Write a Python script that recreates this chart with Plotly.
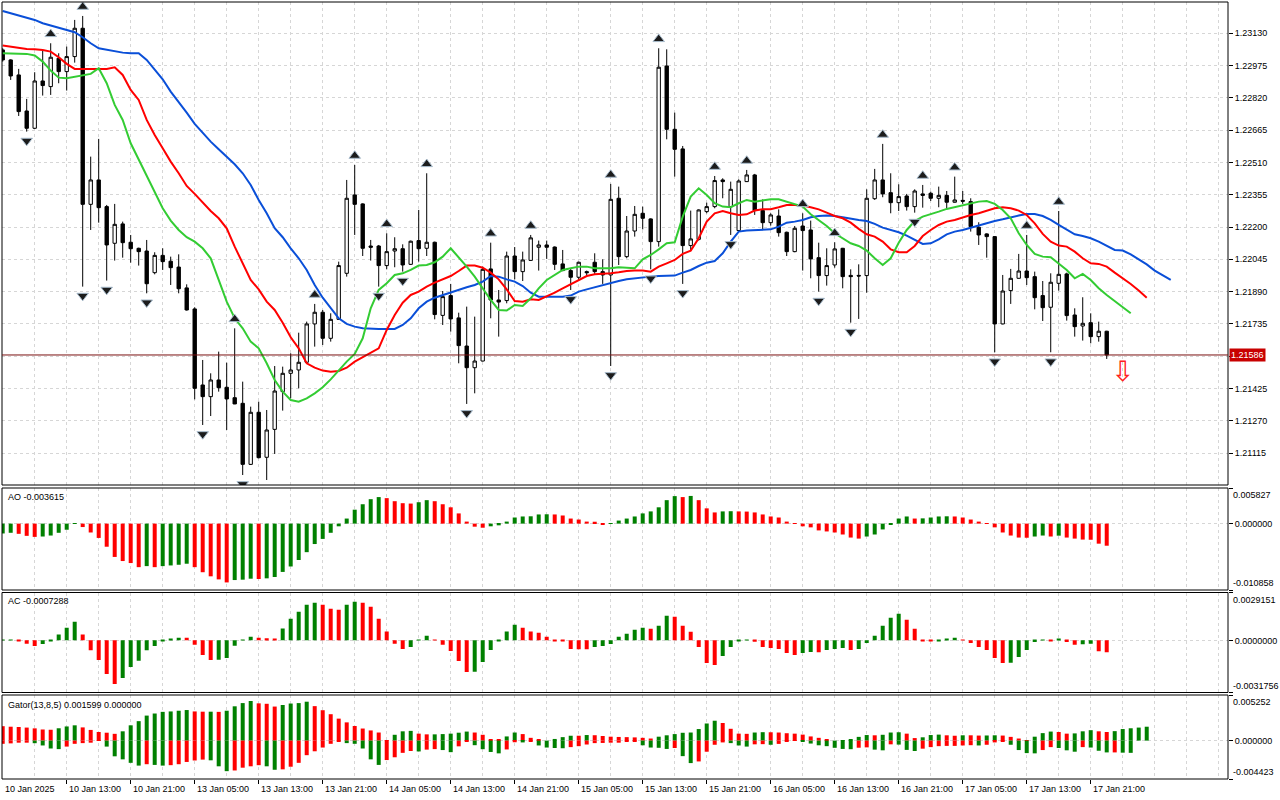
import plotly.graph_objects as go

# H1 candles, 10 Jan 05:00 .. 17 Jan 23:00 2025
opens = [
    1.23050, 1.23002, 1.22930, 1.22757, 1.22674, 1.22901, 1.22874, 1.23010, 1.22946, 1.23018,
    1.23154, 1.22309, 1.22426, 1.22298, 1.22122, 1.22215, 1.22127, 1.22098, 1.22085, 1.21981,
    1.22064, 1.22036, 1.22008, 1.21908, 1.21807, 1.21442, 1.21386, 1.21466, 1.21431, 1.21381,
    1.21354, 1.21061, 1.21311, 1.21095, 1.21229, 1.21410, 1.21498, 1.21514, 1.21551, 1.21735,
    1.21791, 1.21666, 1.21757, 1.21978, 1.22354, 1.22311, 1.22109, 1.22109, 1.22015, 1.22085,
    1.22096, 1.22021, 1.22135, 1.22098, 1.22127, 1.21776, 1.21871, 1.21764, 1.21629, 1.21525,
    1.21557, 1.21999, 1.21850, 1.21847, 1.22061, 1.21986, 1.22040, 1.22103, 1.22114, 1.22104,
    1.22023, 1.21991, 1.21959, 1.21986, 1.22031, 1.21986, 1.21970, 1.22338, 1.22058, 1.22181,
    1.22266, 1.22239, 1.22130, 1.22973, 1.22669, 1.22575, 1.22111, 1.22141, 1.22274, 1.22298,
    1.22426, 1.22298, 1.22183, 1.22418, 1.22450, 1.22279, 1.22221, 1.22253, 1.22175, 1.22082,
    1.22205, 1.22186, 1.22053, 1.21967, 1.22018, 1.22098, 1.21968, 1.21968, 1.21967, 1.22336,
    1.22426, 1.22365, 1.22317, 1.22349, 1.22298, 1.22359, 1.22362, 1.22338, 1.22352, 1.22319,
    1.22328, 1.22322, 1.22199, 1.22167, 1.22154, 1.21735, 1.21895, 1.21954, 1.21989, 1.21962,
    1.21871, 1.21815, 1.21930, 1.21975, 1.21778, 1.21725, 1.21741, 1.21674, 1.21700,
]
highs = [
    1.23058, 1.23005, 1.22959, 1.22815, 1.22943, 1.23047, 1.23082, 1.23034, 1.23066, 1.23194,
    1.23213, 1.22538, 1.22623, 1.22306, 1.22311, 1.22226, 1.22162, 1.22101, 1.22138, 1.22079,
    1.22098, 1.22058, 1.22069, 1.21925, 1.21815, 1.21562, 1.21498, 1.21602, 1.21549, 1.21714,
    1.21458, 1.21338, 1.21362, 1.21322, 1.21533, 1.21530, 1.21594, 1.21693, 1.21746, 1.21831,
    1.21802, 1.21786, 1.22034, 1.22426, 1.22498, 1.22314, 1.22138, 1.22114, 1.22170, 1.22151,
    1.22117, 1.22135, 1.22282, 1.22458, 1.22130, 1.21893, 1.21927, 1.21789, 1.21818, 1.21770,
    1.22010, 1.22125, 1.21898, 1.22082, 1.22104, 1.22082, 1.22162, 1.22135, 1.22135, 1.22107,
    1.22090, 1.22002, 1.22034, 1.21991, 1.22074, 1.22045, 1.22407, 1.22394, 1.22253, 1.22301,
    1.22298, 1.22242, 1.23058, 1.23053, 1.22749, 1.22589, 1.22279, 1.22285, 1.22317, 1.22445,
    1.22434, 1.22418, 1.22429, 1.22474, 1.22455, 1.22333, 1.22266, 1.22285, 1.22178, 1.22205,
    1.22266, 1.22231, 1.22125, 1.22098, 1.22127, 1.22100, 1.21997, 1.22021, 1.22381, 1.22479,
    1.22599, 1.22458, 1.22405, 1.22359, 1.22381, 1.22402, 1.22370, 1.22394, 1.22373, 1.22442,
    1.22373, 1.22338, 1.22223, 1.22170, 1.22157, 1.21970, 1.21999, 1.22071, 1.22162, 1.21986,
    1.21941, 1.21978, 1.22277, 1.21981, 1.21810, 1.21863, 1.21786, 1.21746, 1.21702,
]
lows = [
    1.22994, 1.22906, 1.22733, 1.22658, 1.22671, 1.22831, 1.22834, 1.22890, 1.22855, 1.22989,
    1.21914, 1.22186, 1.22221, 1.21943, 1.22039, 1.22053, 1.22029, 1.22015, 1.21882, 1.21973,
    1.21994, 1.21922, 1.21882, 1.21799, 1.21373, 1.21250, 1.21293, 1.21410, 1.21226, 1.21350,
    1.21010, 1.21058, 1.21090, 1.20986, 1.21111, 1.21319, 1.21378, 1.21426, 1.21549, 1.21626,
    1.21634, 1.21650, 1.21754, 1.21962, 1.22162, 1.22061, 1.22039, 1.21914, 1.21997, 1.22007,
    1.21986, 1.22018, 1.22034, 1.22061, 1.21757, 1.21730, 1.21698, 1.21546, 1.21351, 1.21402,
    1.21555, 1.21762, 1.21674, 1.21834, 1.21949, 1.21941, 1.22037, 1.21991, 1.22047, 1.21994,
    1.21988, 1.21898, 1.21946, 1.21962, 1.21970, 1.21927, 1.21533, 1.22018, 1.22050, 1.22154,
    1.22189, 1.21997, 1.22106, 1.22621, 1.22442, 1.21927, 1.22090, 1.22135, 1.22266, 1.22290,
    1.22338, 1.22162, 1.22180, 1.22416, 1.22258, 1.22186, 1.22207, 1.22154, 1.22061, 1.22079,
    1.21991, 1.21954, 1.21890, 1.21919, 1.22005, 1.21906, 1.21741, 1.21759, 1.21885, 1.22330,
    1.22343, 1.22266, 1.22277, 1.22279, 1.22269, 1.22293, 1.22325, 1.22295, 1.22287, 1.22317,
    1.22311, 1.22178, 1.22114, 1.22053, 1.21599, 1.21733, 1.21831, 1.21952, 1.21922, 1.21805,
    1.21749, 1.21599, 1.21895, 1.21751, 1.21674, 1.21655, 1.21642, 1.21650, 1.21567,
]
closes = [
    1.23002, 1.22925, 1.22754, 1.22674, 1.22901, 1.22879, 1.23015, 1.22946, 1.23018, 1.23154,
    1.22309, 1.22426, 1.22293, 1.22114, 1.22213, 1.22125, 1.22096, 1.22082, 1.21928, 1.22064,
    1.22034, 1.22005, 1.21904, 1.21802, 1.21426, 1.21386, 1.21466, 1.21429, 1.21375, 1.21351,
    1.21061, 1.21311, 1.21093, 1.21226, 1.21413, 1.21498, 1.21514, 1.21551, 1.21735, 1.21791,
    1.21666, 1.21757, 1.22015, 1.22338, 1.22309, 1.22098, 1.22103, 1.22015, 1.22082, 1.22096,
    1.22018, 1.22132, 1.22096, 1.22127, 1.21780, 1.21866, 1.21759, 1.21631, 1.21525, 1.21557,
    1.21997, 1.21850, 1.21840, 1.22061, 1.21986, 1.22042, 1.22148, 1.22114, 1.22103, 1.22021,
    1.21991, 1.21959, 1.22031, 1.21981, 1.21986, 1.21970, 1.22333, 1.22058, 1.22181, 1.22261,
    1.22242, 1.22130, 1.22967, 1.22669, 1.22573, 1.22111, 1.22143, 1.22282, 1.22298, 1.22423,
    1.22418, 1.22381, 1.22421, 1.22450, 1.22279, 1.22221, 1.22258, 1.22173, 1.22082, 1.22194,
    1.22183, 1.22047, 1.21967, 1.22015, 1.22095, 1.21962, 1.21962, 1.21965, 1.22338, 1.22426,
    1.22359, 1.22317, 1.22346, 1.22298, 1.22373, 1.22352, 1.22338, 1.22352, 1.22319, 1.22330,
    1.22324, 1.22202, 1.22162, 1.22154, 1.21735, 1.21893, 1.21954, 1.21989, 1.21957, 1.21861,
    1.21813, 1.21935, 1.21973, 1.21775, 1.21722, 1.21738, 1.21674, 1.21700, 1.21586,
]

# Alligator lines as drawn (already shifted forward by 8 / 5 / 3 bars)
jaw = [
    1.23237, 1.23226, 1.23215, 1.23205, 1.23194, 1.23178, 1.23167, 1.23157, 1.23146, 1.23135,
    1.23111, 1.23082, 1.23058, 1.23050, 1.23045, 1.23037, 1.23034, 1.23034, 1.23002, 1.22954,
    1.22909, 1.22850, 1.22802, 1.22749, 1.22695, 1.22650, 1.22610, 1.22573, 1.22538, 1.22501,
    1.22458, 1.22402, 1.22330, 1.22266, 1.22194, 1.22151, 1.22098, 1.22050, 1.21994, 1.21922,
    1.21861, 1.21810, 1.21762, 1.21735, 1.21722, 1.21714, 1.21711, 1.21711, 1.21711, 1.21711,
    1.21730, 1.21762, 1.21810, 1.21842, 1.21861, 1.21874, 1.21885, 1.21898, 1.21911, 1.21922,
    1.21938, 1.21965, 1.21962, 1.21949, 1.21938, 1.21917, 1.21885, 1.21866, 1.21866, 1.21866,
    1.21866, 1.21871, 1.21890, 1.21901, 1.21911, 1.21922, 1.21933, 1.21941, 1.21949, 1.21954,
    1.21959, 1.21962, 1.21965, 1.21965, 1.21967, 1.21981, 1.21994, 1.22013, 1.22029, 1.22037,
    1.22074, 1.22130, 1.22178, 1.22183, 1.22186, 1.22188, 1.22189, 1.22202, 1.22221, 1.22226,
    1.22234, 1.22247, 1.22253, 1.22255, 1.22253, 1.22247, 1.22239, 1.22234, 1.22229, 1.22215,
    1.22197, 1.22186, 1.22175, 1.22159, 1.22138, 1.22119, 1.22122, 1.22141, 1.22165, 1.22178,
    1.22186, 1.22197, 1.22208, 1.22218, 1.22229, 1.22237, 1.22247, 1.22255, 1.22263, 1.22263,
    1.22253, 1.22234, 1.22210, 1.22186, 1.22165, 1.22157, 1.22146, 1.22130, 1.22109, 1.22090,
    1.22087, 1.22069, 1.22045, 1.22021, 1.21991, 1.21970, 1.21946,
]
teeth = [
    1.23071, 1.23066, 1.23058, 1.23055, 1.23053, 1.23050, 1.23042, 1.23015, 1.22983, 1.22959,
    1.22959, 1.22959, 1.22959, 1.22959, 1.22967, 1.22930, 1.22858, 1.22810, 1.22714, 1.22642,
    1.22578, 1.22514, 1.22458, 1.22397, 1.22359, 1.22317, 1.22277, 1.22242, 1.22194, 1.22106,
    1.22026, 1.21946, 1.21901, 1.21842, 1.21802, 1.21741, 1.21671, 1.21618, 1.21546, 1.21525,
    1.21511, 1.21506, 1.21509, 1.21525, 1.21554, 1.21575, 1.21594, 1.21618, 1.21706, 1.21778,
    1.21837, 1.21874, 1.21890, 1.21914, 1.21933, 1.21949, 1.21965, 1.21989, 1.22015, 1.22015,
    1.22005, 1.21981, 1.21949, 1.21901, 1.21845, 1.21842, 1.21853, 1.21850, 1.21866, 1.21885,
    1.21906, 1.21927, 1.21946, 1.21965, 1.21973, 1.21975, 1.21978, 1.21983, 1.21989, 1.21991,
    1.21991, 1.21986, 1.22010, 1.22026, 1.22042, 1.22071, 1.22087, 1.22146, 1.22226, 1.22266,
    1.22277, 1.22266, 1.22258, 1.22261, 1.22279, 1.22285, 1.22285, 1.22295, 1.22306, 1.22306,
    1.22303, 1.22295, 1.22285, 1.22269, 1.22253, 1.22242, 1.22221, 1.22191, 1.22165, 1.22154,
    1.22130, 1.22093, 1.22079, 1.22079, 1.22109, 1.22157, 1.22186, 1.22210, 1.22226, 1.22234,
    1.22247, 1.22258, 1.22266, 1.22277, 1.22290, 1.22295, 1.22290, 1.22279, 1.22258, 1.22218,
    1.22167, 1.22130, 1.22111, 1.22106, 1.22082, 1.22050, 1.22026, 1.22023, 1.22010, 1.21981,
    1.21954, 1.21927, 1.21895, 1.21861,
]
lips = [
    1.23034, 1.23034, 1.23034, 1.23031, 1.23023, 1.22994, 1.22951, 1.22917, 1.22914, 1.22922,
    1.22930, 1.22935, 1.22962, 1.22890, 1.22786, 1.22714, 1.22602, 1.22522, 1.22442, 1.22362,
    1.22290, 1.22231, 1.22186, 1.22151, 1.22130, 1.22098, 1.22050, 1.21946, 1.21842, 1.21762,
    1.21714, 1.21650, 1.21618, 1.21546, 1.21466, 1.21410, 1.21370, 1.21362, 1.21378, 1.21402,
    1.21431, 1.21469, 1.21514, 1.21554, 1.21591, 1.21666, 1.21810, 1.21898, 1.21930, 1.21970,
    1.21978, 1.21994, 1.22015, 1.22018, 1.22031, 1.22058, 1.22098, 1.22055, 1.22010, 1.21962,
    1.21906, 1.21850, 1.21802, 1.21799, 1.21826, 1.21821, 1.21858, 1.21906, 1.21946, 1.21970,
    1.21994, 1.22002, 1.22010, 1.22010, 1.22002, 1.22002, 1.22002, 1.22007, 1.22005, 1.22002,
    1.22045, 1.22066, 1.22093, 1.22122, 1.22127, 1.22250, 1.22346, 1.22386, 1.22354, 1.22314,
    1.22298, 1.22295, 1.22314, 1.22330, 1.22322, 1.22326, 1.22333, 1.22333, 1.22322, 1.22309,
    1.22298, 1.22261, 1.22231, 1.22205, 1.22170, 1.22146, 1.22122, 1.22109, 1.22087, 1.22050,
    1.22018, 1.22050, 1.22125, 1.22186, 1.22229, 1.22250, 1.22261, 1.22274, 1.22287, 1.22295,
    1.22303, 1.22311, 1.22322, 1.22325, 1.22311, 1.22282, 1.22242, 1.22170, 1.22114, 1.22071,
    1.22058, 1.22055, 1.22026, 1.21994, 1.21954, 1.21975, 1.21946, 1.21906, 1.21874, 1.21845,
    1.21815, 1.21786,
]

# Awesome Oscillator, in 1e-5
ao_e5 = [
    -161, -150, -167, -200, -217, -211, -195, -150, -100, -6,
    -56, -145, -234, -378, -545, -612, -645, -712, -695, -712,
    -695, -684, -673, -656, -712, -795, -862, -912, -962, -923,
    -917, -901, -906, -895, -873, -790, -701, -595, -467, -334,
    -250, -150, -44, 83, 228, 317, 400, 434, 417, 367,
    334, 328, 350, 384, 367, 317, 267, 167, 33, -50,
    -67, -44, -28, 33, 100, 117, 120, 150, 153, 150,
    133, 83, 67, 33, 31, -11, -6, 50, 83, 117,
    167, 200, 267, 384, 450, 434, 453, 384, 250, 183,
    200, 203, 200, 197, 183, 150, 117, 100, 33, -6,
    -44, -61, -111, -128, -145, -178, -228, -245, -211, -178,
    -95, -11, 83, 117, 83, 86, 100, 117, 120, 117,
    100, 67, 33, -6, -61, -145, -195, -228, -231, -211,
    -195, -211, -197, -228, -245, -261, -264, -328, -361.5,
]
# Accelerator Oscillator, in 1e-6
ac_e6 = [
    10, 20, -20, -202, -344, -223, -20, 364, 769, 1133,
    364, -607, -1194, -2044, -2651, -2287, -1619, -1235, -607, -344,
    -20, 101, 162, 152, -263, -891, -1194, -1184, -1073, -324,
    40, 223, 162, 121, 101, 729, 1316, 1741, 2166, 2287,
    2166, 1923, 1862, 2166, 2348, 2287, 2044, 1316, 546, -202,
    -526, -405, 5, 283, 20, -263, -648, -1255, -1923, -1913,
    -1316, -587, -20, 546, 951, 769, 546, 466, 223, -20,
    -61, -526, -536, -546, -405, -344, -223, 223, 405, 648,
    769, 708, 891, 1498, 1437, 891, 526, -405, -1376, -1498,
    -951, -405, -40, 5, -81, -405, -466, -526, -769, -891,
    -769, -708, -719, -587, -526, -466, -587, -526, -162, 283,
    891, 1376, 1619, 1255, 708, -20, -40, -20, 101, 162,
    40, -162, -405, -587, -1073, -1376, -1366, -1012, -587, -101,
    20, -10, 101, -101, -263, -243, -202, -668, -728.8,
]

fractal_up = [6, 10, 29, 39, 44, 48, 53, 61, 66, 76, 82, 89, 93, 100, 104, 110, 115, 119, 128, 132]
fractal_down = [3, 10, 13, 18, 25, 30, 33, 47, 50, 58, 71, 76, 81, 85, 91, 102, 106, 114, 124, 131]

price_ticks = [1.21115, 1.21270, 1.21425, 1.21580, 1.21735, 1.21890, 1.22045,
               1.22200, 1.22355, 1.22510, 1.22665, 1.22820, 1.22975, 1.23130]
last_price = 1.21586
sell_bar = 140
sell_price = 1.21505

label_bars = [0, 8, 16, 24, 32, 40, 48, 56, 64, 72, 80, 88, 96, 104, 112, 120, 128, 136]
label_texts = ["10 Jan 2025", "10 Jan 13:00", "10 Jan 21:00", "13 Jan 05:00", "13 Jan 13:00",
               "13 Jan 21:00", "14 Jan 05:00", "14 Jan 13:00", "14 Jan 21:00", "15 Jan 05:00",
               "15 Jan 13:00", "15 Jan 21:00", "16 Jan 05:00", "16 Jan 13:00", "16 Jan 21:00",
               "17 Jan 05:00", "17 Jan 13:00", "17 Jan 21:00"]

ao_scale = [-0.010858, 0.005827]
ac_scale = [-0.0031756, 0.0029151]
gator_scale = [-0.004423, 0.005252]

GREEN = "#008000"
RED = "#ff0000"
GRID = "#d6d6d6"
FONT = "Liberation Sans"


def py(px):
    # pixel row -> paper fraction
    return 1 - px / 800.0


def hist_colors(vals, first, use_abs=False):
    cols = []
    prev = None
    for v in vals:
        a = abs(v) if use_abs else v
        if prev is None:
            cols.append(first)
        else:
            cols.append(GREEN if a > prev else RED)
        prev = a
    return cols


bars = list(range(len(opens)))
ao = [v * 1e-5 for v in ao_e5]
ac = [v * 1e-6 for v in ac_e6]
gator_up = [abs(j - t) for j, t in zip(jaw, teeth)]
gator_dn = [-abs(t - l) for t, l in zip(teeth, lips)]
pad = 0.00044

fig = go.Figure()

fig.add_trace(go.Candlestick(
    x=bars, open=opens, high=highs, low=lows, close=closes,
    increasing=dict(line=dict(color="black", width=1), fillcolor="white"),
    decreasing=dict(line=dict(color="black", width=1), fillcolor="black"),
    whiskerwidth=0, hoverinfo="skip",
))
fig.add_trace(go.Scatter(x=list(range(len(jaw))), y=jaw, mode="lines",
                         line=dict(color="#0a4fd8", width=2)))
fig.add_trace(go.Scatter(x=list(range(len(teeth))), y=teeth, mode="lines",
                         line=dict(color="#ff0000", width=2)))
fig.add_trace(go.Scatter(x=list(range(len(lips))), y=lips, mode="lines",
                         line=dict(color="#33cc33", width=2)))

fract_marker = dict(size=10, color="#1c1c1c", line=dict(color="#a8bccd", width=1))
fig.add_trace(go.Scatter(
    x=fractal_up, y=[highs[i] + pad for i in fractal_up], mode="markers",
    marker=dict(fract_marker, symbol="triangle-up"),
))
fig.add_trace(go.Scatter(
    x=fractal_down, y=[lows[i] - pad for i in fractal_down], mode="markers",
    marker=dict(fract_marker, symbol="triangle-down"),
))

fig.add_trace(go.Bar(x=bars, y=ao, width=0.5, yaxis="y2",
                     marker=dict(color=hist_colors(ao, GREEN), line=dict(width=0))))
fig.add_trace(go.Bar(x=bars, y=ac, width=0.5, yaxis="y3",
                     marker=dict(color=hist_colors(ac, GREEN), line=dict(width=0))))
fig.add_trace(go.Bar(x=list(range(len(gator_up))), y=gator_up, width=0.5, yaxis="y4",
                     marker=dict(color=hist_colors(gator_up, RED), line=dict(width=0))))
fig.add_trace(go.Bar(x=list(range(len(gator_dn))), y=gator_dn, width=0.5, yaxis="y4",
                     marker=dict(color=hist_colors(gator_dn, RED, True), line=dict(width=0))))

x_dom = [2 / 1280, 1228 / 1280]
panes = {
    "main": (2, 485),
    "ao": (488, 590),
    "ac": (592.5, 692.5),
    "gator": (695, 779),
}

grid = dict(showgrid=True, gridcolor=GRID, griddash="3px,3px", gridwidth=1, zeroline=False)
yside = dict(side="right", anchor="x", ticks="outside", ticklen=4, tickcolor="black",
             tickfont=dict(family=FONT, size=9, color="black"), fixedrange=True)

fig.update_layout(
    width=1280, height=800,
    margin=dict(l=0, r=0, t=0, b=0),
    paper_bgcolor="white", plot_bgcolor="white",
    showlegend=False, barmode="overlay", boxgap=0.4,
    font=dict(family=FONT, size=9, color="black"),
    xaxis=dict(
        domain=x_dom, range=[-0.0875, 153.16], anchor="y4",
        tickmode="array", tickvals=label_bars[1:], showticklabels=False,
        ticks="outside", ticklen=4, tickcolor="black",
        minor=dict(tickmode="linear", tick0=0, dtick=4, showgrid=True,
                   gridcolor=GRID, griddash="3px,3px", ticks=""),
        rangeslider=dict(visible=False), **grid,
    ),
    yaxis=dict(domain=[py(panes["main"][1]), py(panes["main"][0])],
               range=[1.20962, 1.23280], tickmode="array", tickvals=price_ticks,
               ticktext=["" if abs(v - 1.21580) < 1e-9 else f"{v:.5f}" for v in price_ticks],
               **yside, **grid),
    yaxis2=dict(domain=[py(panes["ao"][1]), py(panes["ao"][0])], range=ao_scale,
                tickmode="array", tickvals=[ao_scale[0], 0, ao_scale[1]],
                ticktext=["", "0.000000", ""], **yside, **grid),
    yaxis3=dict(domain=[py(panes["ac"][1]), py(panes["ac"][0])], range=ac_scale,
                tickmode="array", tickvals=[ac_scale[0], 0, ac_scale[1]],
                ticktext=["", "0.0000000", ""], **yside, **grid),
    yaxis4=dict(domain=[py(panes["gator"][1]), py(panes["gator"][0])], range=gator_scale,
                tickmode="array", tickvals=[gator_scale[0], 0, gator_scale[1]],
                ticktext=["", "0.000000", ""], **yside, **grid),
)

# pane frames
for top, bottom in panes.values():
    fig.add_shape(type="rect", xref="paper", yref="paper",
                  x0=x_dom[0], x1=x_dom[1], y0=py(bottom), y1=py(top),
                  line=dict(color="black", width=1), fillcolor="rgba(0,0,0,0)", layer="above")

# current price line and label
fig.add_shape(type="line", xref="x domain", yref="y", x0=0, x1=1,
              y0=last_price, y1=last_price, line=dict(color="#7a1010", width=1))
fig.add_annotation(x=1229 / 1280, xref="paper", y=last_price, yref="y",
                   text=f"{last_price:.5f}", showarrow=False, xanchor="left",
                   bgcolor="#c80000", borderpad=1,
                   font=dict(family=FONT, size=9, color="white"))

# sell signal arrow
fig.add_annotation(x=sell_bar, xref="x", y=sell_price, yref="y", text="⇩", showarrow=False,
                   font=dict(family="DejaVu Sans", size=28, color="#ff2020"))

# pane captions
captions = [("AO -0.003615", 497), ("AC -0.0007288", 601), ("Gator(13,8,5) 0.001599 0.000000", 705)]
for text, row in captions:
    fig.add_annotation(x=6 / 1280, xref="paper", y=py(row), yref="paper", text=text,
                       showarrow=False, xanchor="left", yanchor="middle")

# min / max labels of the oscillator panes
for ax, scale, fmt in (("y2", ao_scale, "{:.6f}"), ("y3", ac_scale, "{:.7f}"),
                       ("y4", gator_scale, "{:.6f}")):
    fig.add_annotation(x=1231 / 1280, xref="paper", y=scale[1], yref=ax, text=fmt.format(scale[1]),
                       showarrow=False, xanchor="left", yanchor="top")
    fig.add_annotation(x=1231 / 1280, xref="paper", y=scale[0], yref=ax, text=fmt.format(scale[0]),
                       showarrow=False, xanchor="left", yanchor="bottom")

# time labels
for b, text in zip(label_bars, label_texts):
    fig.add_annotation(x=b, xref="x", y=py(789), yref="paper", text=text,
                       showarrow=False, xanchor="left", yanchor="middle")

fig.write_html("out.html", config={"displayModeBar": False},
               post_script="document.body.style.margin='0';document.body.style.overflow='hidden';")
